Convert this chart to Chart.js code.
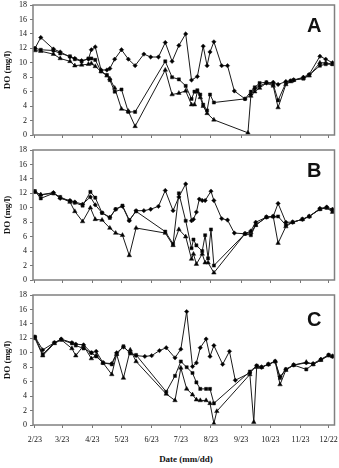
<!DOCTYPE html>
<html>
<head>
<meta charset="utf-8">
<script src="https://cdn.jsdelivr.net/npm/chart.js@4"></script>
<style>
  body { margin: 0; background: #fff; }
  #wrap { position: relative; width: 339px; height: 468px; }
  canvas { position: absolute; left: 0; }
  .tag { position: absolute; left: 307px; font: bold 20px "Liberation Sans", Arial, sans-serif; line-height: 20px; color: #111; }
  #xtitle { position: absolute; top: 454px; left: 0; width: 372px; text-align: center; font: bold 9px "Liberation Serif", serif; line-height: 10px; color: #111; }
</style>
</head>
<body>
<div id="wrap">
  <canvas id="chartA" width="339" height="140" style="top:0px"></canvas>
  <canvas id="chartB" width="339" height="140" style="top:145px"></canvas>
  <canvas id="chartC" width="339" height="160" style="top:290px"></canvas>
  <div class="tag" style="top:15px">A</div>
  <div class="tag" style="top:160px">B</div>
  <div class="tag" style="top:309px">C</div>
  <div id="xtitle">Date (mm/dd)</div>
</div>
<script>
// x = days since 2/23
const tickDays = [0, 28, 59, 89, 120, 150, 181, 212, 242, 273, 302];
const tickLabels = ['2/23', '3/23', '4/23', '5/23', '6/23', '7/23', '8/23', '9/23', '10/23', '11/23', '12/22'];

// panel A
const daysA = [0,6,19,26,36,41,48,55,58,62,68,74,77,82,89,96,103,112,119,127,134,141,148,155,161,164,167,170,173,177,180,184,192,198,205,216,219,222,226,231,238,245,250,258,263,266,276,282,293,299,306];
const diamondA = [12.0,13.5,11.9,11.5,10.8,10.6,10.3,10.5,11.8,12.2,9.0,9.0,9.2,10.5,11.8,10.5,9.6,11.2,10.8,10.8,12.8,10.2,12.4,14.0,7.6,null,8.1,null,12.3,9.6,11.5,12.9,9.6,9.6,6.1,5.0,null,5.6,6.4,6.8,7.2,7.3,7.0,7.4,7.5,7.6,8.0,8.4,10.9,10.5,10.0];
const squareA = [12.0,11.8,11.7,11.3,10.9,10.5,10.2,10.6,10.6,10.4,8.8,8.3,7.6,6.0,6.3,3.2,3.2,null,null,null,10.2,8.0,7.7,6.8,5.0,6.0,6.2,5.6,4.2,3.4,5.6,4.5,null,null,null,5.0,null,6.0,6.6,7.2,7.3,7.0,4.8,7.2,7.5,7.6,7.8,8.3,9.6,9.8,9.8];
const triangleA = [11.7,11.6,11.2,10.6,10.2,9.6,9.7,9.8,9.9,9.5,8.8,8.2,7.8,6.5,3.6,3.3,1.2,null,null,null,9.0,5.6,5.8,6.1,4.2,4.2,6.0,5.2,4.0,3.0,null,2.1,null,null,null,null,0.3,5.4,6.0,6.5,7.2,6.8,3.8,7.0,7.4,7.6,7.9,8.2,10.0,10.0,9.8];

// panel B
const daysB = [0,6,19,26,36,41,49,57,62,69,77,83,90,97,104,112,119,127,134,142,148,155,161,163,166,169,172,175,178,181,184,192,198,205,216,222,227,238,245,250,258,265,275,282,293,300,306];
const diamondB = [12.2,11.8,12.1,11.3,11.0,10.8,10.5,11.5,10.4,9.3,8.7,9.8,10.2,8.2,9.6,9.6,9.8,10.2,12.4,9.6,11.5,13.3,8.2,8.4,9.4,11.2,11.0,11.0,null,12.3,11.0,8.5,8.3,6.5,6.4,6.8,8.0,8.7,8.8,10.6,8.0,8.0,8.4,8.8,9.9,10.1,9.8];
const squareB = [12.3,11.3,12.0,11.5,10.9,10.7,10.3,12.2,11.4,9.3,8.6,9.8,10.3,8.3,9.5,null,null,null,6.7,5.0,12.0,8.2,4.4,5.6,4.8,null,4.0,6.2,3.0,7.0,2.0,null,null,null,6.4,6.2,7.6,8.7,8.8,8.8,7.6,8.0,8.4,8.8,9.8,10.0,9.6];
const triangleB = [12.2,11.8,12.0,11.4,10.8,9.5,8.1,10.0,8.4,8.3,7.2,6.5,6.2,3.4,7.2,null,null,null,6.5,4.8,7.0,6.0,2.9,3.6,2.2,null,3.6,2.4,2.4,null,1.0,null,null,null,6.4,6.6,7.6,8.7,8.8,5.1,7.4,8.0,8.4,8.8,9.8,10.0,9.4];

// panel C
const daysC = [0,8,20,27,38,42,50,58,63,70,79,84,91,98,104,113,120,128,135,144,150,156,162,166,170,176,180,184,187,193,200,206,221,225,228,233,240,247,252,258,266,279,286,294,302,306];
const diamondC = [12.2,10.4,11.4,11.9,11.4,11.2,11.1,10.0,10.2,8.6,8.5,10.0,10.8,10.0,9.6,9.5,9.6,10.3,10.7,9.3,10.5,15.7,8.1,8.6,10.7,11.9,9.5,11.0,null,8.4,10.2,6.2,7.2,null,8.2,8.0,8.4,8.8,6.7,7.7,8.3,8.6,8.5,9.1,9.7,9.5];
const squareC = [12.2,9.8,11.4,11.8,11.3,11.0,10.6,10.0,9.5,8.6,8.4,9.8,10.9,9.9,9.7,null,null,null,4.6,6.8,8.8,8.0,7.2,5.9,5.0,5.0,5.0,3.0,null,null,null,null,7.4,null,8.2,8.0,8.4,8.8,6.5,7.7,8.3,7.7,8.4,9.0,9.7,9.5];
const triangleC = [12.0,9.6,11.3,11.8,10.6,9.6,11.0,9.2,9.6,8.6,7.0,9.8,6.5,10.4,8.8,null,null,null,4.3,3.4,7.9,5.0,4.2,3.5,3.4,3.4,3.0,0.2,1.9,null,null,null,7.0,0.4,8.0,8.0,8.4,8.8,5.6,7.6,8.3,8.7,8.4,9.0,9.6,9.5];

const serif = '"Liberation Serif", "Times New Roman", serif';

// grey box round the plot area
const frame = {
  id: 'frame',
  afterDraw(chart) {
    const a = chart.chartArea, c = chart.ctx;
    c.save();
    c.strokeStyle = '#808080';
    c.lineWidth = 1.5;
    c.strokeRect(a.left, a.top, a.right - a.left, a.bottom - a.top);
    c.restore();
  }
};

function series(days, vals, shape) {
  return {
    data: days.map((d, i) => ({ x: d, y: vals[i] })),
    borderColor: '#1a1a1a',
    backgroundColor: '#000',
    borderWidth: 1,
    pointStyle: shape,
    pointRadius: shape === 'triangle' ? 2.6 : 2.2,
    pointBorderWidth: 0.5,
    spanGaps: true,
    tension: 0
  };
}

function makePanel(id, days, dia, sq, tri, showX) {
  new Chart(document.getElementById(id), {
    type: 'line',
    data: {
      datasets: [
        series(days, dia, 'rectRot'),
        series(days, sq, 'rect'),
        series(days, tri, 'triangle')
      ]
    },
    options: {
      responsive: false,
      animation: false,
      layout: { padding: { top: 5, right: 4, left: 0, bottom: 0 } },
      plugins: { legend: { display: false }, tooltip: { enabled: false } },
      scales: {
        x: {
          type: 'linear',
          min: -2,
          max: 308,
          border: { display: false },
          grid: { drawOnChartArea: false, tickLength: 3, color: '#777' },
          afterBuildTicks: s => { s.ticks = tickDays.map(v => ({ value: v })); },
          afterFit: s => { s.height = showX ? 25 : 5; s.paddingLeft = 0; s.paddingRight = 0; },
          ticks: {
            display: showX,
            autoSkip: false,
            maxRotation: 0,
            padding: 7,
            color: '#111',
            font: { family: serif, size: 8 },
            callback: (v, i) => tickLabels[i]
          }
        },
        y: {
          min: 0,
          max: 18,
          border: { display: false },
          grid: { drawOnChartArea: false, tickLength: 3, color: '#777' },
          afterFit: s => { s.width = 33; s.paddingTop = 0; s.paddingBottom = 0; },
          ticks: { stepSize: 2, padding: 3, color: '#111', font: { family: serif, size: 8 } },
          title: {
            display: true,
            text: 'DO (mg/l)',
            color: '#111',
            padding: { top: 2, bottom: 0 },
            font: { family: serif, size: 9, weight: 'bold' }
          }
        }
      }
    },
    plugins: [frame]
  });
}

makePanel('chartA', daysA, diamondA, squareA, triangleA, false);
makePanel('chartB', daysB, diamondB, squareB, triangleB, false);
makePanel('chartC', daysC, diamondC, squareC, triangleC, true);
</script>
</body>
</html>
